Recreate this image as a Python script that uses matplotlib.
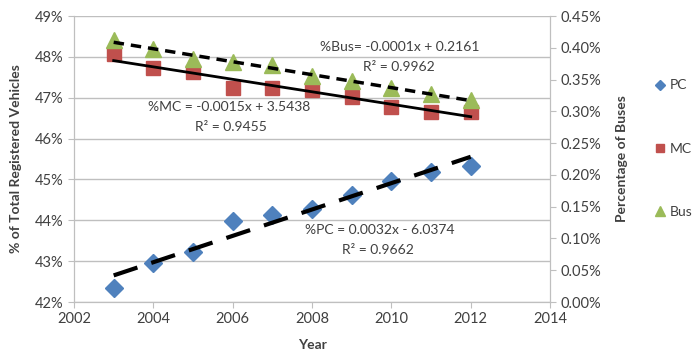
import numpy as np
import matplotlib.pyplot as plt
from matplotlib.ticker import FuncFormatter, MultipleLocator

plt.rcParams['font.family'] = ['Lato', 'DejaVu Sans']

years = np.array([2003, 2004, 2005, 2006, 2007, 2008, 2009, 2010, 2011, 2012])
pc = [42.35, 42.96, 43.23, 43.98, 44.13, 44.27, 44.62, 44.96, 45.19, 45.34]
mc = [48.07, 47.73, 47.64, 47.23, 47.24, 47.19, 47.02, 46.78, 46.66, 46.66]
bus = [0.412, 0.398, 0.383, 0.378, 0.373, 0.355, 0.347, 0.336, 0.328, 0.318]

blue = '#4F81BD'
red = '#C0504D'
green = '#9BBB59'
grid = '#BFBFBF'

fig = plt.figure(figsize=(6.93, 3.52), dpi=100)
ax = fig.add_axes([0.1068, 0.142, 0.6869, 0.8125])
ax2 = ax.twinx()

# trend lines from the data
def trend(y):
    k, b = np.polyfit(years, y, 1)
    return k * years + b

ax.plot(years, pc, 'D', color=blue, markersize=9, label='PC', zorder=3)
ax.plot(years, mc, 's', color=red, markersize=10, label='MC', zorder=3)
ax.plot(years, trend(pc), color='black', lw=3, dashes=(6, 3.5), zorder=4)
ax.plot(years, trend(mc), color='black', lw=2, zorder=4)

ax2.plot(years, bus, '^', color=green, markersize=11, label='Bus', zorder=3)
ax2.plot(years, trend(bus), color='black', lw=2.5, dashes=(3, 2), zorder=4)

ax.set_xlim(2002, 2014)
ax.set_ylim(42, 49)
ax2.set_ylim(0, 0.45)
ax.xaxis.set_major_locator(MultipleLocator(2))
ax.yaxis.set_major_locator(MultipleLocator(1))
ax2.yaxis.set_major_locator(MultipleLocator(0.05))
ax.yaxis.set_major_formatter(FuncFormatter(lambda v, p: f'{v:.0f}%'))
ax2.yaxis.set_major_formatter(FuncFormatter(lambda v, p: f'{v:.2f}%'))

ax.grid(axis='y', color=grid, lw=1)
ax.set_axisbelow(True)
for a in (ax, ax2):
    for s in a.spines.values():
        s.set_color(grid)
    a.spines['top'].set_visible(False)
    a.tick_params(colors='#404040', labelsize=10.5, length=4, color=grid)

ax.set_xlabel('Year', fontweight='bold', fontsize=10, color='#404040', labelpad=9)
ax.set_ylabel('% of Total Registered Vehicles', fontweight='bold', fontsize=10,
              color='#404040', labelpad=9)
ax2.set_ylabel('Percentage of Buses', fontweight='bold', fontsize=10,
               color='#404040', labelpad=11)

tk = dict(fontsize=10, color='#404040', ha='center', va='center')
ax.text(2010.2, 48.24, '%Bus= -0.0001x + 0.2161', **tk)
ax.text(2010.2, 47.75, 'R² = 0.9962', **tk)
ax.text(2005.9, 46.77, '%MC = -0.0015x + 3.5438', **tk)
ax.text(2005.95, 46.28, 'R² = 0.9455', **tk)
ax.text(2009.7, 43.76, '%PC = 0.0032x - 6.0374', **tk)
ax.text(2009.65, 43.27, 'R² = 0.9662', **tk)

h1, l1 = ax.get_legend_handles_labels()
h2, l2 = ax2.get_legend_handles_labels()
fig.legend(h1 + h2, l1 + l2, loc='upper left', bbox_to_anchor=(0.925, 0.81),
           frameon=False, markerscale=0.6, labelspacing=3.7, handletextpad=0.2,
           handlelength=1.0, fontsize=10, labelcolor='#404040')

fig.savefig('out.png', dpi=100)
